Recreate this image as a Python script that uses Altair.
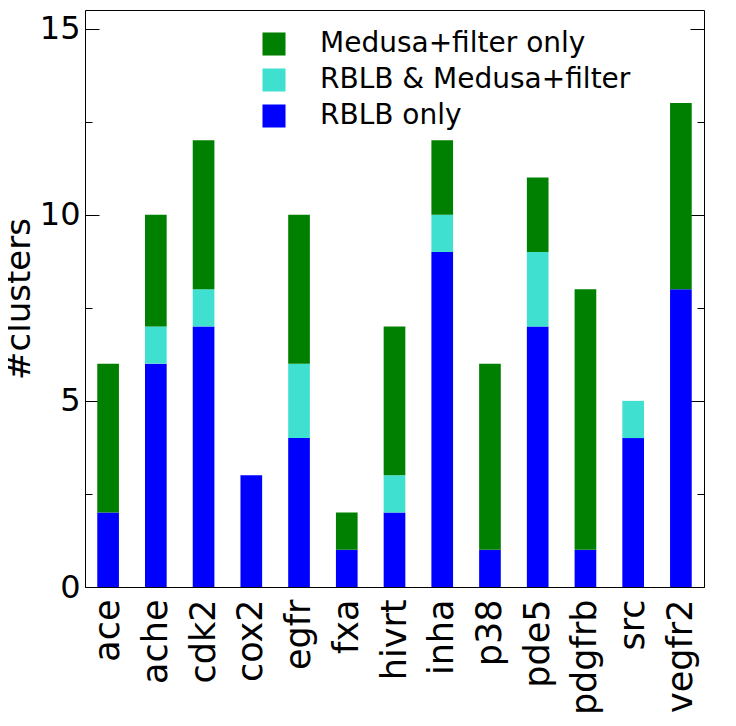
import altair as alt
import pandas as pd

targets = ["ace", "ache", "cdk2", "cox2", "egfr", "fxa", "hivrt", "inha",
           "p38", "pde5", "pdgfrb", "src", "vegfr2"]
rblb_only = [2, 6, 7, 3, 4, 1, 2, 9, 1, 7, 1, 4, 8]
both = [0, 1, 1, 0, 2, 0, 1, 1, 0, 2, 0, 1, 0]
medusa_only = [4, 3, 4, 0, 4, 1, 4, 2, 5, 2, 7, 0, 5]

series_names = ["Medusa+filter only", "RBLB & Medusa+filter", "RBLB only"]
series_colors = ["#008000", "#40E0D0", "#0000FF"]

rows = []
for i, t in enumerate(targets):
    rows.append({"target": t, "series": "RBLB only", "count": rblb_only[i], "ord": 0})
    rows.append({"target": t, "series": "RBLB & Medusa+filter", "count": both[i], "ord": 1})
    rows.append({"target": t, "series": "Medusa+filter only", "count": medusa_only[i], "ord": 2})
df = pd.DataFrame(rows)

yscale = alt.Scale(domain=[0, 15.5], nice=False, zero=True)
major = [0, 5, 10, 15]
minor = [2.5, 7.5, 12.5]

bars = alt.Chart(df).mark_bar().encode(
    x=alt.X("target:N", sort=targets,
            scale=alt.Scale(paddingInner=0.546, paddingOuter=0.257),
            axis=alt.Axis(title=None, labelAngle=270, labelFontSize=35,
                          labelPadding=12, ticks=False, domain=False,
                          labelColor="black", labelAlign="right",
                          labelBaseline="middle", labelLimit=0)),
    y=alt.Y("count:Q", stack="zero", scale=yscale,
            axis=alt.Axis(title="#clusters", values=major, labelFontSize=32,
                          labelPadding=5, ticks=False, domain=False, grid=False,
                          labelColor="black", titleFontSize=34,
                          titleFontWeight="normal", titleColor="black",
                          titlePadding=3, orient="left")),
    color=alt.Color("series:N", scale=alt.Scale(domain=series_names, range=series_colors),
                    legend=alt.Legend(title=None, orient="none", legendX=175, legendY=20,
                                      symbolType="square", symbolSize=530,
                                      labelFontSize=28, rowPadding=8, labelOffset=32,
                                      padding=0, labelColor="black", labelLimit=0,
                                      symbolStrokeWidth=0)),
    order=alt.Order("ord:Q", sort="ascending"),
)


def tick_layer(orient, vals, size):
    return alt.Chart(df).mark_point(opacity=0).encode(
        y=alt.Y("count:Q", scale=yscale,
                axis=alt.Axis(orient=orient, values=vals, offset=-size, tickSize=size,
                              labels=False, domain=False, grid=False, title=None,
                              tickColor="black", tickWidth=1)),
    )


chart = alt.layer(
    bars,
    tick_layer("left", major, 14),
    tick_layer("left", minor, 7),
    tick_layer("right", major, 14),
    tick_layer("right", minor, 7),
).resolve_axis(y="independent").properties(
    width=619, height=577,
    padding={"left": 77, "top": 2, "right": 20, "bottom": 128},
    autosize=alt.AutoSizeParams(type="none"),
).configure(font="DejaVu Sans").configure_view(stroke="black", strokeWidth=1)

chart.save("out.html", embed_options={"renderer": "svg", "actions": False})
